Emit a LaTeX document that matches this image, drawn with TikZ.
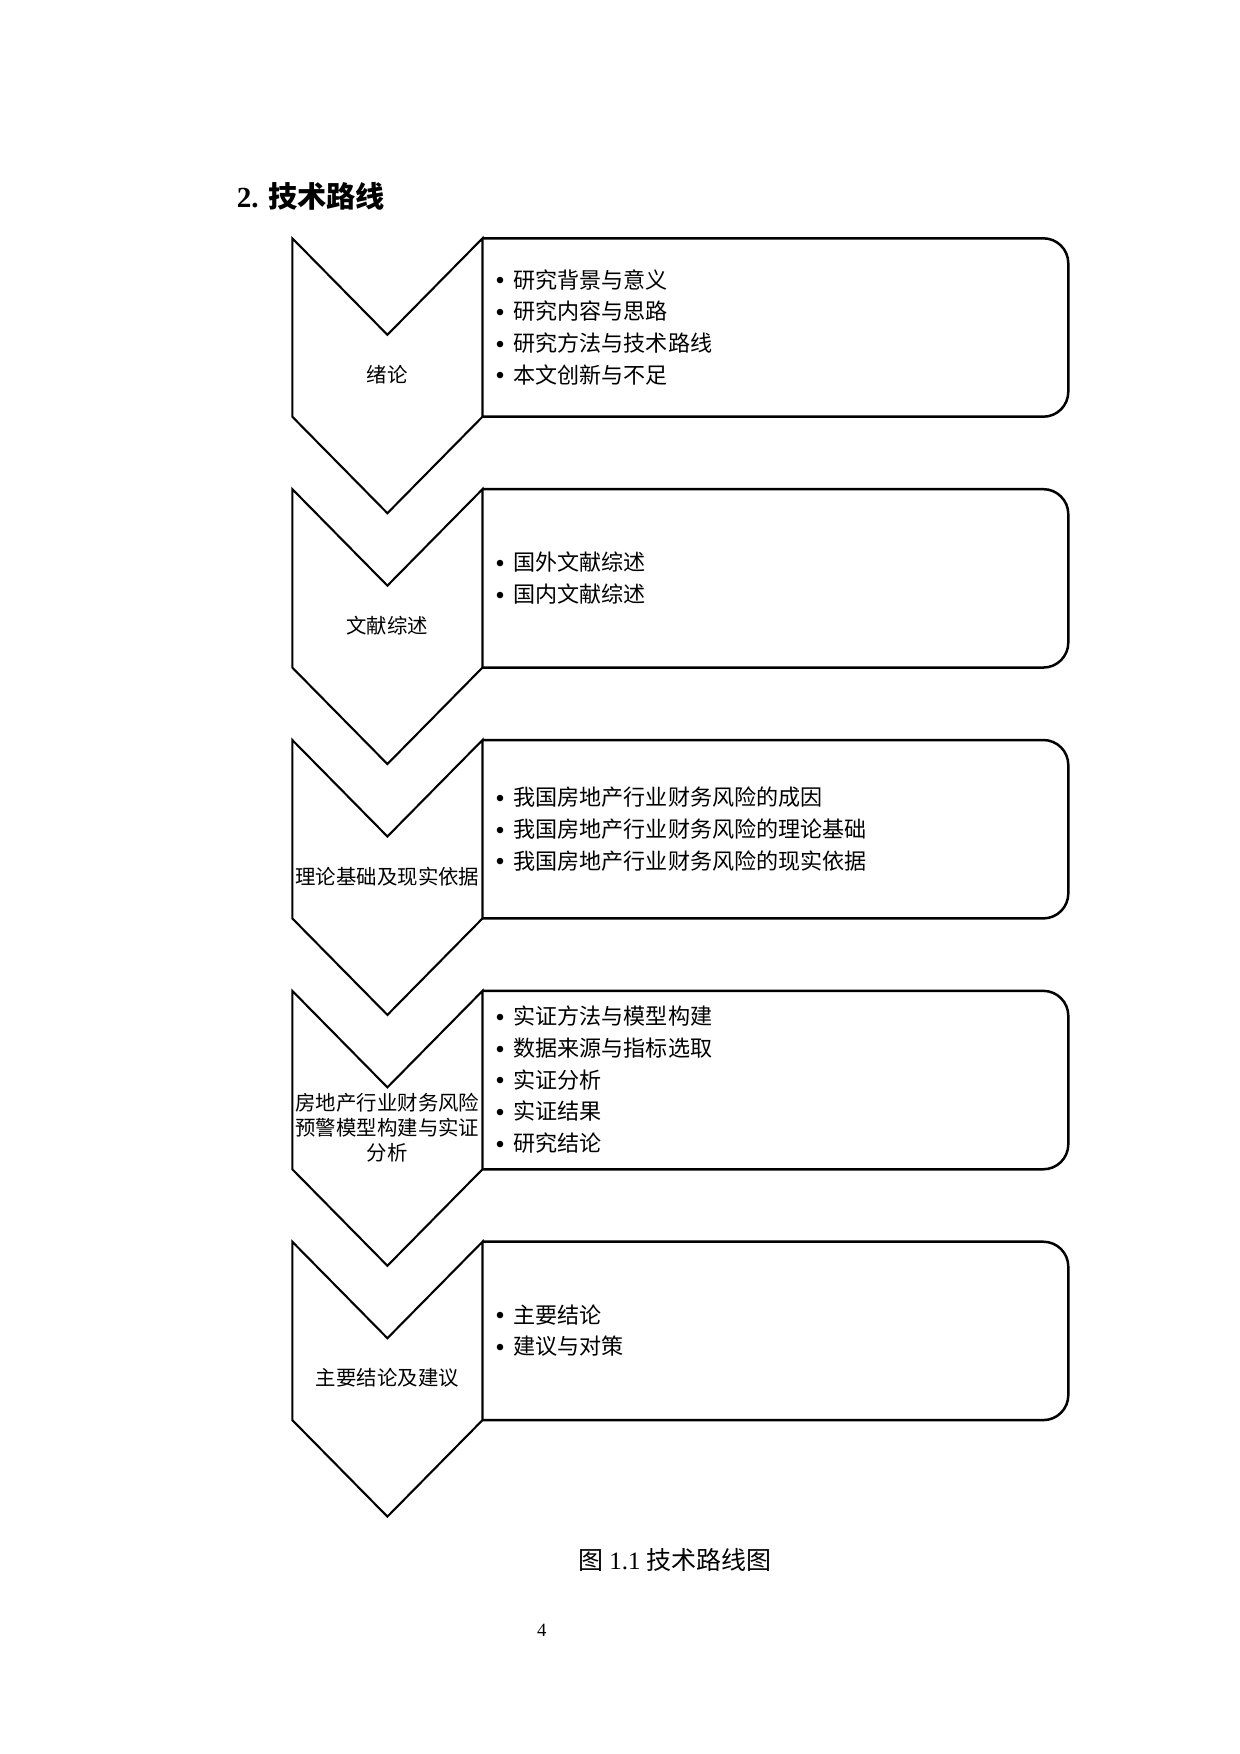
\documentclass[tikz,border=0pt]{standalone}
\usepackage{fontspec}
\setmainfont{Liberation Serif}
\newfontfamily\cjk{Noto Sans CJK SC}
\newcommand\bul{\makebox[8.64pt][l]{\raisebox{-0.8pt}{\rmfamily\fontsize{13}{15}\selectfont\textbullet}}}
\begin{document}
\begin{tikzpicture}[x=0.48pt,y=-0.48pt,
  chev/.style={draw=black,line width=1pt,line join=miter},
  boxline/.style={draw=black,line width=1.2pt,rounded corners=12pt},
  items/.style={anchor=west,inner sep=0pt,align=left,font=\cjk\fontsize{10.6}{15.2}\selectfont},
  stagelabel/.style={anchor=center,inner sep=0pt,align=center,font=\cjk\fontsize{9.8}{12}\selectfont}]
\useasboundingbox (0,0) rectangle (1240,1754);
\newcommand\drawstage[4]{%
  \pgfmathsetmacro\T{238.3+250.85*#1}
  \draw[chev] (292.3,\T) -- (387.4,\T+96.5) -- (482.5,\T) -- (482.5,\T+178.4)
     -- (387.4,\T+274.9) -- (292.3,\T+178.4) -- cycle;
  \draw[boxline] (482.5,\T) -- (1068.3,\T) -- (1068.3,\T+178.4) -- (482.5,\T+178.4);
  \node[stagelabel] (lab#2) at (387.4,\T+136.5) {#3};
  \node[items] (items#2) at (495,\T+89) {#4};
}
\node[anchor=west,inner sep=0pt] (title) at (236.4,196.7)
  {\fontsize{14}{16}\selectfont\bfseries 2. {\cjk\bfseries 技术路线}};
\drawstage{0}{a}{绪论}{\bul 研究背景与意义\\\bul 研究内容与思路\\\bul 研究方法与技术路线\\\bul 本文创新与不足}
\drawstage{1}{b}{文献综述}{\bul 国外文献综述\\\bul 国内文献综述}
\drawstage{2}{c}{理论基础及现实依据}{\bul 我国房地产行业财务风险的成因\\\bul 我国房地产行业财务风险的理论基础\\\bul 我国房地产行业财务风险的现实依据}
\drawstage{3}{d}{房地产行业财务风险\\预警模型构建与实证\\分析}{\bul 实证方法与模型构建\\\bul 数据来源与指标选取\\\bul 实证分析\\\bul 实证结果\\\bul 研究结论}
\drawstage{4}{e}{主要结论及建议}{\bul 主要结论\\\bul 建议与对策}
\node[inner sep=0pt] (caption) at (675,1560)
  {\fontsize{12}{14}\selectfont{\cjk 图} 1.1 {\cjk 技术路线图}};
\node[inner sep=0pt] (pagenum) at (541.7,1630) {\fontsize{9}{10}\selectfont 4};
\end{tikzpicture}
\end{document}
